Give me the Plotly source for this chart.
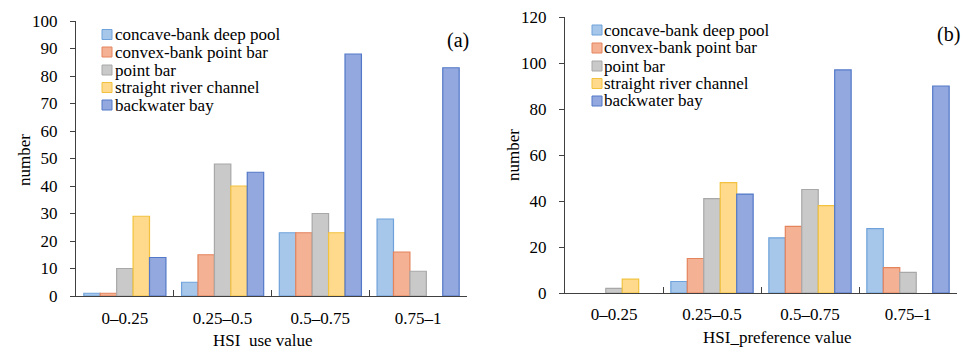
import plotly.graph_objects as go

categories = ["0–0.25", "0.25–0.5", "0.5–0.75", "0.75–1"]
series_names = ["concave-bank deep pool", "convex-bank point bar", "point bar",
                "straight river channel", "backwater bay"]

use_concave = [1, 5, 23, 28]
use_convex = [1, 15, 23, 16]
use_pointbar = [10, 48, 30, 9]
use_straight = [29, 40, 23, 0]
use_backwater = [14, 45, 88, 83]

pref_concave = [0, 5, 24, 28]
pref_convex = [0, 15, 29, 11]
pref_pointbar = [2, 41, 45, 9]
pref_straight = [6, 48, 38, 0]
pref_backwater = [0, 43, 97, 90]

y_ticks_a = [0, 10, 20, 30, 40, 50, 60, 70, 80, 90, 100]
y_ticks_b = [0, 20, 40, 60, 80, 100, 120]

fills = ["#A6C6EA", "#F5B194", "#C9C9C9", "#FFD98C", "#93A8DE"]
lines = ["#6FA2DA", "#E4845C", "#A8A8A8", "#F2C23E", "#5378C8"]

FONT = "Liberation Serif"
AX = "#404040"
W, H = 968, 349

fig = go.Figure()
use_data = [use_concave, use_convex, use_pointbar, use_straight, use_backwater]
pref_data = [pref_concave, pref_convex, pref_pointbar, pref_straight, pref_backwater]

for i, name in enumerate(series_names):
    fig.add_trace(go.Bar(x=categories, y=use_data[i], name=name, showlegend=False,
                         marker=dict(color=fills[i],
                                     line=dict(color=lines[i],
                                               width=[0 if v == 0 else 1.2 for v in use_data[i]])),
                         xaxis="x", yaxis="y"))
for i, name in enumerate(series_names):
    fig.add_trace(go.Bar(x=categories, y=pref_data[i], name=name, showlegend=False,
                         marker=dict(color=fills[i],
                                     line=dict(color=lines[i],
                                               width=[0 if v == 0 else 1.2 for v in pref_data[i]])),
                         xaxis="x2", yaxis="y2"))

axis_common = dict(showline=True, linecolor=AX, linewidth=1, showgrid=False, zeroline=False,
                   automargin=False,
                   tickfont=dict(family=FONT, size=17, color="#000"), tickcolor=AX)

# custom legends (pixel positions converted to paper coordinates)
shapes = []
annotations = []
def add_legend(x_sym, y_centers, x_text):
    for i, name in enumerate(series_names):
        yc = y_centers[i]
        shapes.append(dict(type="rect", xref="paper", yref="paper",
                           x0=x_sym / W, x1=(x_sym + 10) / W,
                           y0=1 - (yc + 5) / H, y1=1 - (yc - 5) / H,
                           fillcolor=fills[i], line=dict(color=lines[i], width=1)))
        annotations.append(dict(text=name, x=x_text / W, y=1 - yc / H, xref="paper", yref="paper",
                                xanchor="left", yanchor="middle", showarrow=False,
                                borderpad=0,
                                font=dict(family=FONT, size=17, color="#000")))

add_legend(102, [34.5, 52, 70, 87.5, 105], 114)
add_legend(592, [30, 48, 66, 83.5, 101], 603)

def add_text(text, xc, yc, size=17, angle=0):
    annotations.append(dict(text=text, x=xc / W, y=1 - yc / H, xref="paper", yref="paper",
                            xanchor="center", yanchor="middle", showarrow=False, textangle=angle,
                            font=dict(family=FONT, size=size, color="#000")))

add_text("(a)", 458, 40, size=20)
add_text("(b)", 948, 34, size=20)
add_text("HSI&nbsp;&nbsp;use value", 263, 340)
add_text("HSI_preference value", 777, 337)
add_text("number", 24, 160, angle=-90)
add_text("number", 513, 155, angle=-90)

fig.update_layout(
    width=W, height=H,
    margin=dict(l=0, r=0, t=0, b=0, autoexpand=False),
    paper_bgcolor="white", plot_bgcolor="white",
    barmode="group", bargap=0.16, bargroupgap=0,
    font=dict(family=FONT, size=17, color="#000"),
    xaxis=dict(domain=[76 / W, 467 / W], anchor="y", type="category",
               range=[-0.5, 3.5], tickson="boundaries", ticks="inside", ticklen=6,
               ticklabelstandoff=7, **axis_common),
    yaxis=dict(domain=[1 - 296 / H, 1 - 21 / H], anchor="x", range=[0, 100],
               tickvals=y_ticks_a, ticks="outside", ticklen=5, ticklabelstandoff=9,
               **axis_common),
    xaxis2=dict(domain=[565 / W, 957 / W], anchor="y2", type="category",
                range=[-0.5, 3.5], tickson="boundaries", ticks="inside", ticklen=6,
                ticklabelstandoff=6, **axis_common),
    yaxis2=dict(domain=[1 - 293 / H, 1 - 17 / H], anchor="x2", range=[0, 120],
                tickvals=y_ticks_b, ticks="outside", ticklen=5, ticklabelstandoff=9,
                **axis_common),
    shapes=shapes,
    annotations=annotations,
)

fig.write_html(
    "out.html",
    config={"displayModeBar": False, "staticPlot": True},
    post_script="document.documentElement.style.margin='0';document.body.style.margin='0';"
                "document.body.style.overflow='hidden';",
)
